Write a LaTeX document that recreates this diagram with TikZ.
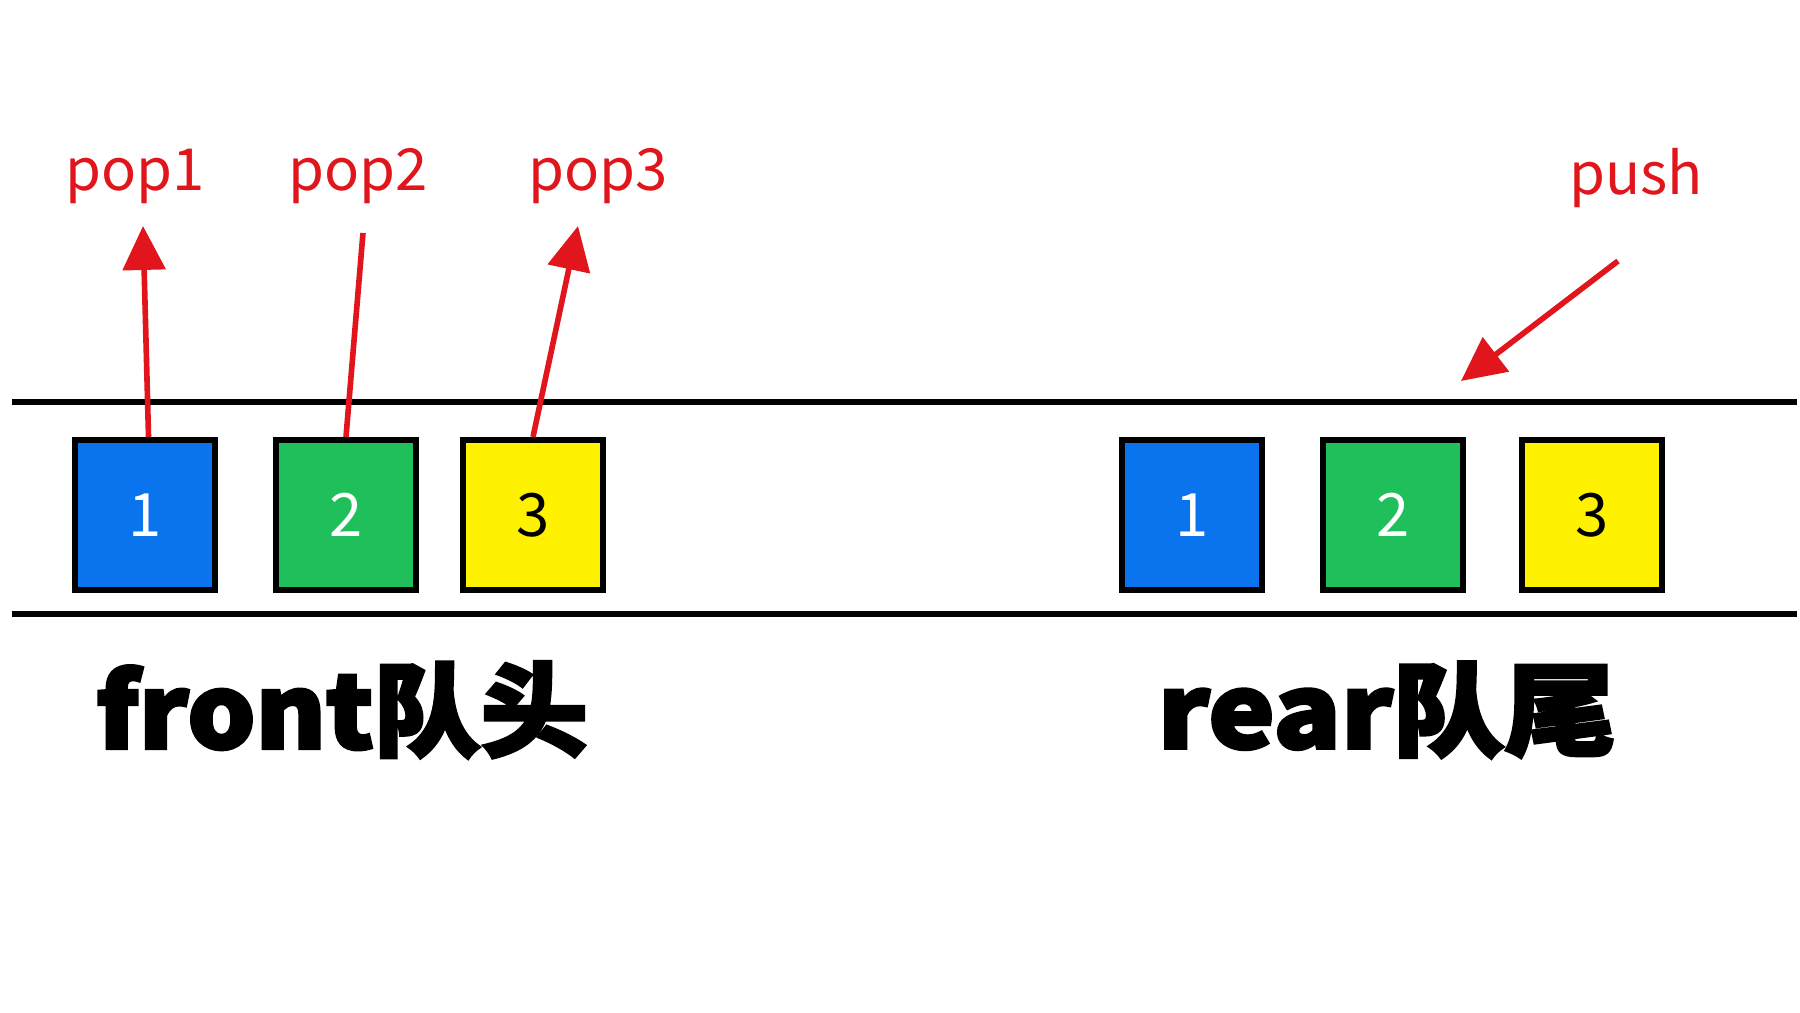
\documentclass[tikz,border=0pt]{standalone}
\usepackage{fontspec}
\newfontfamily\cjk{Noto Sans CJK SC}
\newfontfamily\cjkb{Noto Sans CJK SC}[BoldFeatures={FakeBold=3}]
\usetikzlibrary{arrows.meta}
\definecolor{qblue}{HTML}{0A74EE}
\definecolor{qgreen}{HTML}{1FBF5C}
\definecolor{qyellow}{HTML}{FFF200}
\definecolor{qred}{HTML}{E0161C}
\tikzset{
  cell/.style={draw=black, line width=1.7pt, minimum width=1.40cm, minimum height=1.50cm, inner sep=0pt, font=\cjk\fontsize{17}{17}\selectfont},
  lab/.style={text=qred, font=\cjk\fontsize{16.5}{18}\selectfont, inner sep=0pt},
  big/.style={font=\cjkb\bfseries\fontsize{29}{32}\selectfont, inner sep=0pt},
  redline/.style={draw=qred, line width=1.6pt},
  redarrow/.style={redline, -{Triangle[width=12pt,length=12.5pt]}},
  rail/.style={draw=black, line width=1.5pt}
}
\begin{document}
\begin{tikzpicture}[x=0.01cm,y=-0.01cm]
\useasboundingbox (0,0) rectangle (1800,1013);
\fill[white] (0,0) rectangle (1800,1013);
% rails
\coordinate (t1) at (12,402); \coordinate (t2) at (1797,402);
\coordinate (u1) at (12,614); \coordinate (u2) at (1797,614);
\draw[rail] (t1) -- (t2);
\draw[rail] (u1) -- (u2);
% left cells
\node[cell, fill=qblue, text=white] (b1) at (145,515) {1};
\node[cell, fill=qgreen, text=white] (b2) at (346,515) {2};
\node[cell, fill=qyellow, text=black] (b3) at (533,515) {3};
% right cells
\node[cell, fill=qblue, text=white] (c1) at (1192,515) {1};
\node[cell, fill=qgreen, text=white] (c2) at (1393,515) {2};
\node[cell, fill=qyellow, text=black] (c3) at (1592,515) {3};
% labels
\node[lab] (p1) at (135,176) {pop1};
\node[lab] (p2) at (358,176) {pop2};
\node[lab] (p3) at (598,176) {pop3};
\node[lab] (ps) at (1636,178) {push};
% arrows
\coordinate (a1) at (143,226);
\coordinate (a2) at (363,233);
\coordinate (a3) at (578,226);
\coordinate (s0) at (1618,261);
\coordinate (s1) at (1461,381);
\draw[redarrow] ([xshift=1pt]b1.north) -- (a1);
\draw[redline] (b2.north) -- (a2);
\draw[redarrow] (b3.north) -- (a3);
\draw[redarrow] (s0) -- (s1);
% bottom titles
\node[big, xscale=1.05] (f) at (342,710) {front队头};
\node[big, xscale=1.095] (r) at (1387,710) {rear队尾};
\end{tikzpicture}
\end{document}
